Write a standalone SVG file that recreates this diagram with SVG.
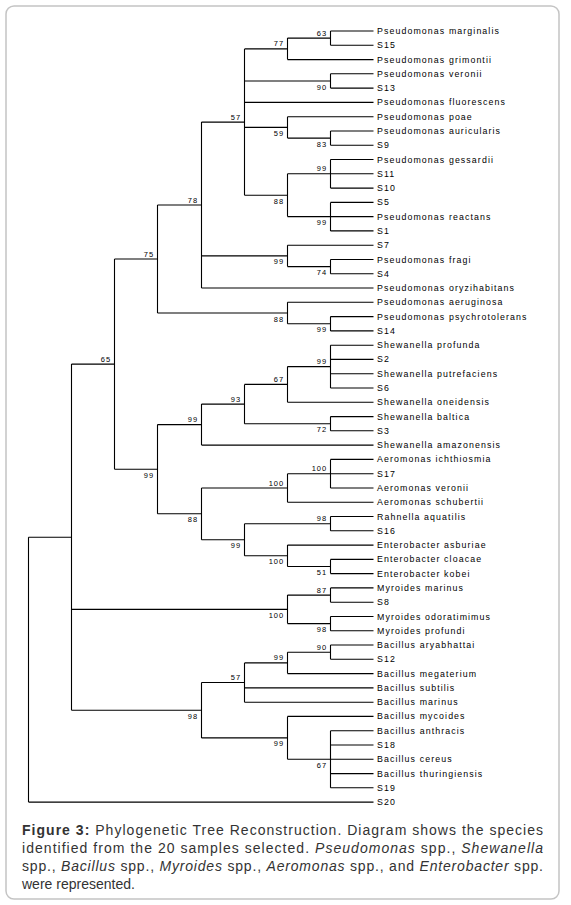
<svg xmlns="http://www.w3.org/2000/svg" width="571" height="905" viewBox="0 0 571 905">
<style>
.br{fill:none;stroke:#000;stroke-width:1.1}
.lf{font-family:"Liberation Sans",Arial,sans-serif;font-size:8.8px;letter-spacing:1.1px;fill:#000}
.bs{font-family:"Liberation Sans",Arial,sans-serif;font-size:7.5px;letter-spacing:0.9px;fill:#000;text-anchor:end}
.cap{font-family:"Liberation Sans",Arial,sans-serif;font-size:14px;fill:#333}
</style>
<rect x="6" y="6" width="553" height="893" rx="8" fill="#fff" stroke="#c4c4c4" stroke-width="1.5"/>
<g id="connectors">
<path class="br" d="M330.5,31V45.3M330.5,31H373.5M330.5,45.3H373.5"/>
<path class="br" d="M287.5,38.1V59.6M287.5,38.1H330.5M287.5,59.6H373.5"/>
<path class="br" d="M330.5,73.8V88.1M330.5,73.8H373.5M330.5,88.1H373.5"/>
<path class="br" d="M330.5,131V145.2M330.5,131H373.5M330.5,145.2H373.5"/>
<path class="br" d="M287.5,116.7V138.1M287.5,116.7H373.5M287.5,138.1H330.5"/>
<path class="br" d="M330.5,159.5V188.1M330.5,159.5H373.5M330.5,173.8H373.5M330.5,188.1H373.5"/>
<path class="br" d="M330.5,202.4V230.9M330.5,202.4H373.5M330.5,216.6H373.5M330.5,230.9H373.5"/>
<path class="br" d="M287.5,173.8V216.6M287.5,173.8H330.5M287.5,216.6H330.5"/>
<path class="br" d="M244.5,48.9V195.2M244.5,48.9H287.5M244.5,81H330.5M244.5,102.4H373.5M244.5,127.4H287.5M244.5,195.2H287.5"/>
<path class="br" d="M330.5,259.5V273.8M330.5,259.5H373.5M330.5,273.8H373.5"/>
<path class="br" d="M287.5,245.2V266.6M287.5,245.2H373.5M287.5,266.6H330.5"/>
<path class="br" d="M201.5,122.1V288M201.5,122.1H244.5M201.5,255.9H287.5M201.5,288H373.5"/>
<path class="br" d="M330.5,316.6V330.9M330.5,316.6H373.5M330.5,330.9H373.5"/>
<path class="br" d="M287.5,302.3V323.7M287.5,302.3H373.5M287.5,323.7H330.5"/>
<path class="br" d="M157.5,205V313M157.5,205H201.5M157.5,313H287.5"/>
<path class="br" d="M330.5,345.2V388M330.5,345.2H373.5M330.5,359.4H373.5M330.5,373.7H373.5M330.5,388H373.5"/>
<path class="br" d="M287.5,366.6V402.3M287.5,366.6H330.5M287.5,402.3H373.5"/>
<path class="br" d="M330.5,416.6V430.8M330.5,416.6H373.5M330.5,430.8H373.5"/>
<path class="br" d="M244.5,384.4V423.7M244.5,384.4H287.5M244.5,423.7H330.5"/>
<path class="br" d="M201.5,404.1V445.1M201.5,404.1H244.5M201.5,445.1H373.5"/>
<path class="br" d="M330.5,459.4V488M330.5,459.4H373.5M330.5,473.7H373.5M330.5,488H373.5"/>
<path class="br" d="M287.5,473.7V502.2M287.5,473.7H330.5M287.5,502.2H373.5"/>
<path class="br" d="M330.5,516.5V530.8M330.5,516.5H373.5M330.5,530.8H373.5"/>
<path class="br" d="M330.5,559.4V573.6M330.5,559.4H373.5M330.5,573.6H373.5"/>
<path class="br" d="M287.5,545.1V566.5M287.5,545.1H373.5M287.5,566.5H330.5"/>
<path class="br" d="M244.5,523.7V555.8M244.5,523.7H330.5M244.5,555.8H287.5"/>
<path class="br" d="M201.5,488V539.7M201.5,488H287.5M201.5,539.7H244.5"/>
<path class="br" d="M157.5,424.6V513.8M157.5,424.6H201.5M157.5,513.8H201.5"/>
<path class="br" d="M114.5,259V469.2M114.5,259H157.5M114.5,469.2H157.5"/>
<path class="br" d="M330.5,587.9V602.2M330.5,587.9H373.5M330.5,602.2H373.5"/>
<path class="br" d="M330.5,616.5V630.8M330.5,616.5H373.5M330.5,630.8H373.5"/>
<path class="br" d="M287.5,595.1V623.6M287.5,595.1H330.5M287.5,623.6H330.5"/>
<path class="br" d="M330.5,645V659.3M330.5,645H373.5M330.5,659.3H373.5"/>
<path class="br" d="M287.5,652.2V673.6M287.5,652.2H330.5M287.5,673.6H373.5"/>
<path class="br" d="M244.5,662.9V702.2M244.5,662.9H287.5M244.5,687.9H373.5M244.5,702.2H373.5"/>
<path class="br" d="M330.5,730.7V787.8M330.5,730.7H373.5M330.5,745H373.5M330.5,759.3H373.5M330.5,773.6H373.5M330.5,787.8H373.5"/>
<path class="br" d="M287.5,716.4V759.3M287.5,716.4H373.5M287.5,759.3H330.5"/>
<path class="br" d="M201.5,682.5V737.9M201.5,682.5H244.5M201.5,737.9H287.5"/>
<path class="br" d="M71.5,364.1V710.2M71.5,364.1H114.5M71.5,609.4H287.5M71.5,710.2H201.5"/>
<path class="br" d="M28.5,537.2V802.1M28.5,537.2H71.5M28.5,802.1H373.5"/>
</g>
<g id="leaves">
<g id="leaf1"><text class="lf" x="377" y="34">Pseudomonas marginalis</text></g>
<g id="leaf2"><text class="lf" x="377" y="48.3">S15</text></g>
<g id="leaf3"><text class="lf" x="377" y="62.6">Pseudomonas grimontii</text></g>
<g id="leaf4"><text class="lf" x="377" y="76.8">Pseudomonas veronii</text></g>
<g id="leaf5"><text class="lf" x="377" y="91.1">S13</text></g>
<g id="leaf6"><text class="lf" x="377" y="105.4">Pseudomonas fluorescens</text></g>
<g id="leaf7"><text class="lf" x="377" y="119.7">Pseudomonas poae</text></g>
<g id="leaf8"><text class="lf" x="377" y="134">Pseudomonas auricularis</text></g>
<g id="leaf9"><text class="lf" x="377" y="148.2">S9</text></g>
<g id="leaf10"><text class="lf" x="377" y="162.5">Pseudomonas gessardii</text></g>
<g id="leaf11"><text class="lf" x="377" y="176.8">S11</text></g>
<g id="leaf12"><text class="lf" x="377" y="191.1">S10</text></g>
<g id="leaf13"><text class="lf" x="377" y="205.4">S5</text></g>
<g id="leaf14"><text class="lf" x="377" y="219.6">Pseudomonas reactans</text></g>
<g id="leaf15"><text class="lf" x="377" y="233.9">S1</text></g>
<g id="leaf16"><text class="lf" x="377" y="248.2">S7</text></g>
<g id="leaf17"><text class="lf" x="377" y="262.5">Pseudomonas fragi</text></g>
<g id="leaf18"><text class="lf" x="377" y="276.8">S4</text></g>
<g id="leaf19"><text class="lf" x="377" y="291">Pseudomonas oryzihabitans</text></g>
<g id="leaf20"><text class="lf" x="377" y="305.3">Pseudomonas aeruginosa</text></g>
<g id="leaf21"><text class="lf" x="377" y="319.6">Pseudomonas psychrotolerans</text></g>
<g id="leaf22"><text class="lf" x="377" y="333.9">S14</text></g>
<g id="leaf23"><text class="lf" x="377" y="348.2">Shewanella profunda</text></g>
<g id="leaf24"><text class="lf" x="377" y="362.4">S2</text></g>
<g id="leaf25"><text class="lf" x="377" y="376.7">Shewanella putrefaciens</text></g>
<g id="leaf26"><text class="lf" x="377" y="391">S6</text></g>
<g id="leaf27"><text class="lf" x="377" y="405.3">Shewanella oneidensis</text></g>
<g id="leaf28"><text class="lf" x="377" y="419.6">Shewanella baltica</text></g>
<g id="leaf29"><text class="lf" x="377" y="433.8">S3</text></g>
<g id="leaf30"><text class="lf" x="377" y="448.1">Shewanella amazonensis</text></g>
<g id="leaf31"><text class="lf" x="377" y="462.4">Aeromonas ichthiosmia</text></g>
<g id="leaf32"><text class="lf" x="377" y="476.7">S17</text></g>
<g id="leaf33"><text class="lf" x="377" y="491">Aeromonas veronii</text></g>
<g id="leaf34"><text class="lf" x="377" y="505.2">Aeromonas schubertii</text></g>
<g id="leaf35"><text class="lf" x="377" y="519.5">Rahnella aquatilis</text></g>
<g id="leaf36"><text class="lf" x="377" y="533.8">S16</text></g>
<g id="leaf37"><text class="lf" x="377" y="548.1">Enterobacter asburiae</text></g>
<g id="leaf38"><text class="lf" x="377" y="562.4">Enterobacter cloacae</text></g>
<g id="leaf39"><text class="lf" x="377" y="576.6">Enterobacter kobei</text></g>
<g id="leaf40"><text class="lf" x="377" y="590.9">Myroides marinus</text></g>
<g id="leaf41"><text class="lf" x="377" y="605.2">S8</text></g>
<g id="leaf42"><text class="lf" x="377" y="619.5">Myroides odoratimimus</text></g>
<g id="leaf43"><text class="lf" x="377" y="633.8">Myroides profundi</text></g>
<g id="leaf44"><text class="lf" x="377" y="648">Bacillus aryabhattai</text></g>
<g id="leaf45"><text class="lf" x="377" y="662.3">S12</text></g>
<g id="leaf46"><text class="lf" x="377" y="676.6">Bacillus megaterium</text></g>
<g id="leaf47"><text class="lf" x="377" y="690.9">Bacillus subtilis</text></g>
<g id="leaf48"><text class="lf" x="377" y="705.2">Bacillus marinus</text></g>
<g id="leaf49"><text class="lf" x="377" y="719.4">Bacillus mycoides</text></g>
<g id="leaf50"><text class="lf" x="377" y="733.7">Bacillus anthracis</text></g>
<g id="leaf51"><text class="lf" x="377" y="748">S18</text></g>
<g id="leaf52"><text class="lf" x="377" y="762.3">Bacillus cereus</text></g>
<g id="leaf53"><text class="lf" x="377" y="776.6">Bacillus thuringiensis</text></g>
<g id="leaf54"><text class="lf" x="377" y="790.8">S19</text></g>
<g id="leaf55"><text class="lf" x="377" y="805.1">S20</text></g>
</g>
<g id="internal-nodes">
<g id="n63"><text class="bs" x="327" y="35.6">63</text></g>
<g id="n77"><text class="bs" x="284" y="46.4">77</text></g>
<g id="n90"><text class="bs" x="327" y="89.5">90</text></g>
<g id="n57"><text class="bs" x="241" y="119.6">57</text></g>
<g id="n59"><text class="bs" x="284" y="135.9">59</text></g>
<g id="n83"><text class="bs" x="327" y="146.6">83</text></g>
<g id="n99a"><text class="bs" x="327" y="171.3">99</text></g>
<g id="n88a"><text class="bs" x="284" y="203.7">88</text></g>
<g id="n99b"><text class="bs" x="327" y="225.1">99</text></g>
<g id="n78"><text class="bs" x="198" y="202.5">78</text></g>
<g id="n99c"><text class="bs" x="284" y="264.4">99</text></g>
<g id="n74"><text class="bs" x="327" y="275.1">74</text></g>
<g id="n75"><text class="bs" x="154" y="256.5">75</text></g>
<g id="n88b"><text class="bs" x="284" y="321.5">88</text></g>
<g id="n99d"><text class="bs" x="327" y="332.2">99</text></g>
<g id="n65"><text class="bs" x="111" y="361.6">65</text></g>
<g id="n99e"><text class="bs" x="327" y="364.1">99</text></g>
<g id="n67"><text class="bs" x="284" y="381.9">67</text></g>
<g id="n93"><text class="bs" x="241" y="401.6">93</text></g>
<g id="n72"><text class="bs" x="327" y="432.2">72</text></g>
<g id="n99f"><text class="bs" x="198" y="422.1">99</text></g>
<g id="n100a"><text class="bs" x="327" y="471.2">100</text></g>
<g id="n100b"><text class="bs" x="284" y="485.5">100</text></g>
<g id="n98a"><text class="bs" x="327" y="521.2">98</text></g>
<g id="n100c"><text class="bs" x="284" y="564.3">100</text></g>
<g id="n51"><text class="bs" x="327" y="575">51</text></g>
<g id="n99g"><text class="bs" x="241" y="548.2">99</text></g>
<g id="n88c"><text class="bs" x="198" y="522.3">88</text></g>
<g id="n99h"><text class="bs" x="154" y="477.7">99</text></g>
<g id="n87"><text class="bs" x="327" y="592.6">87</text></g>
<g id="n100d"><text class="bs" x="284" y="617.9">100</text></g>
<g id="n98b"><text class="bs" x="327" y="632.1">98</text></g>
<g id="n90b"><text class="bs" x="327" y="649.7">90</text></g>
<g id="n99i"><text class="bs" x="284" y="660.4">99</text></g>
<g id="n57b"><text class="bs" x="241" y="680">57</text></g>
<g id="n98c"><text class="bs" x="198" y="718.7">98</text></g>
<g id="n99j"><text class="bs" x="284" y="746.4">99</text></g>
<g id="n67b"><text class="bs" x="327" y="767.8">67</text></g>
</g>
<g id="caption">
<text class="cap" x="22" y="834.5" textLength="521" lengthAdjust="spacing"><tspan font-weight="bold">Figure 3:</tspan> Phylogenetic Tree Reconstruction. Diagram shows the species</text>
<text class="cap" x="22" y="852.5" textLength="521" lengthAdjust="spacing">identified from the 20 samples selected. <tspan font-style="italic">Pseudomonas</tspan> spp., <tspan font-style="italic">Shewanella</tspan></text>
<text class="cap" x="22" y="870.5" textLength="521" lengthAdjust="spacing">spp., <tspan font-style="italic">Bacillus</tspan> spp., <tspan font-style="italic">Myroides</tspan> spp., <tspan font-style="italic">Aeromonas</tspan> spp., and <tspan font-style="italic">Enterobacter</tspan> spp.</text>
<text class="cap" x="22" y="888.5">were represented.</text>
</g>
</svg>
